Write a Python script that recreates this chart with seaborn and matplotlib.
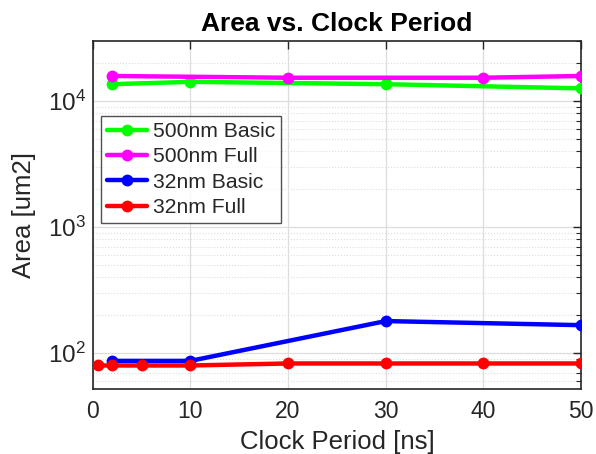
import matplotlib
matplotlib.use("Agg")
import matplotlib.pyplot as plt
import seaborn as sns
import pandas as pd
import numpy as np
from matplotlib.ticker import LogLocator, NullFormatter, FixedLocator

series_names = ["500nm Basic", "500nm Full", "32nm Basic", "32nm Full"]
x_500_basic = [2, 10, 30, 50]
y_500_basic = [13600, 14200, 13600, 12600]
x_500_full = [2, 20, 40, 50]
y_500_full = [15800, 15300, 15300, 15800]
x_32_basic = [2, 10, 30, 50]
y_32_basic = [87, 87, 180, 167]
x_32_full = [0.5, 2, 5, 10, 20, 30, 40, 50]
y_32_full = [80, 80, 80, 80, 83, 83, 83, 83]
colors = ["#00FF00", "#FF00FF", "#0000FF", "#FF0000"]
x_ticks = [0, 10, 20, 30, 40, 50]

frames = []
for name, xs, ys in zip(series_names,
                        [x_500_basic, x_500_full, x_32_basic, x_32_full],
                        [y_500_basic, y_500_full, y_32_basic, y_32_full]):
    frames.append(pd.DataFrame({"x": xs, "y": ys, "series": name}))
df = pd.concat(frames, ignore_index=True)

sns.set_style("white")
plt.rcParams["font.family"] = ["Liberation Sans", "DejaVu Sans"]
plt.rcParams["mathtext.fontset"] = "custom"
plt.rcParams["mathtext.rm"] = "Liberation Sans"

fig = plt.figure(figsize=(5.96, 4.54), dpi=100)
ax = fig.add_axes([0.1555, 0.143, 0.8195, 0.767])

sns.lineplot(data=df, x="x", y="y", hue="series", hue_order=series_names,
             palette=colors, marker="o", markersize=8.5, linewidth=3.2,
             markeredgewidth=0, sort=False, estimator=None, ax=ax, zorder=3)

ax.set_yscale("log")
ax.set_xlim(0, 50)
ax.set_ylim(52, 3e4)
ax.xaxis.set_major_locator(FixedLocator(x_ticks))
ax.yaxis.set_major_locator(LogLocator(base=10))
ax.yaxis.set_minor_locator(LogLocator(base=10, subs=np.arange(2, 10)))
ax.yaxis.set_minor_formatter(NullFormatter())

ax.grid(True, which="major", color="#DDDDDD", linewidth=0.9, linestyle="-")
ax.grid(True, which="minor", axis="y", color="#DDDDDD", linewidth=0.8, linestyle=":")
ax.set_axisbelow(True)

for s in ax.spines.values():
    s.set_color("#262626")
    s.set_linewidth(1.2)

ax.tick_params(axis="both", which="both", direction="in", top=True, right=True,
               colors="#262626")
ax.tick_params(axis="x", labelsize=16.5, pad=8)
ax.tick_params(axis="y", labelsize=17.5, pad=5)
ax.tick_params(which="major", length=6, width=1)
ax.tick_params(which="minor", length=3.5, width=0.8)

ax.set_xlabel("Clock Period [ns]", fontsize=18.5, color="#262626", labelpad=5)
ax.set_ylabel("Area [um2]", fontsize=18.5, color="#262626", labelpad=8)
ax.set_title("Area vs. Clock Period", fontsize=19, fontweight="bold",
             color="black", pad=7)

leg = ax.legend(loc="upper left", bbox_to_anchor=(0.017, 0.785), fontsize=15.2,
                frameon=True, fancybox=False, edgecolor="#262626",
                handlelength=1.9, handletextpad=0.25, borderpad=0.3,
                labelspacing=0.3, borderaxespad=0)
leg.get_frame().set_linewidth(1.0)

fig.savefig("out.png", dpi=100)
